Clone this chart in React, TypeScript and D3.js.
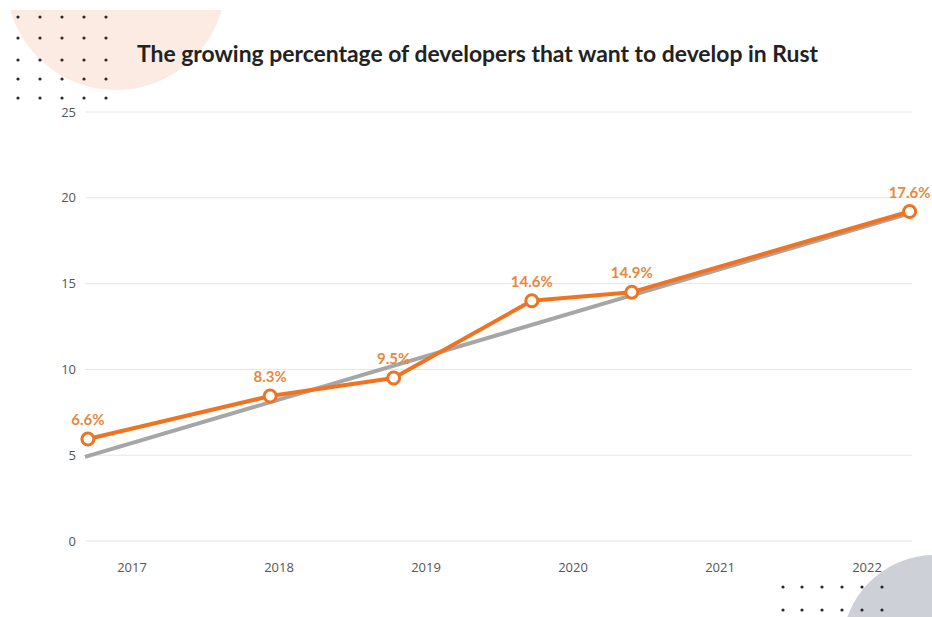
import React from "react";
import * as d3 from "d3";

const years = [2017, 2018, 2019, 2020, 2021, 2022];
const yTicks = [0, 5, 10, 15, 20, 25];
// orange series: x position (fractional year as drawn), plotted value, label
const pointX = [2016.7, 2017.94, 2018.78, 2019.72, 2020.4, 2022.29];
const pointY = [5.94, 8.45, 9.5, 14.0, 14.5, 19.2];
const pointLabels = ["6.6%", "8.3%", "9.5%", "14.6%", "14.9%", "17.6%"];
// gray trend line
const trendX = [2016.68, 2022.29];
const trendY = [4.9, 19.1];

const W = 932;
const H = 617;

export default function App() {
  const x = d3.scaleLinear().domain([2017, 2022]).range([132, 867]);
  const y = d3.scaleLinear().domain([0, 25]).range([541, 112]);
  const line = d3
    .line<[number, number]>()
    .x((d) => x(d[0]))
    .y((d) => y(d[1]));
  const orange = pointX.map((v, i) => [v, pointY[i]] as [number, number]);
  const gray = trendX.map((v, i) => [v, trendY[i]] as [number, number]);

  const dotsTL: [number, number][] = [];
  [18, 40, 62, 84, 106].forEach((cx) =>
    [17, 38, 60, 79, 98].forEach((cy) => dotsTL.push([cx, cy]))
  );
  const dotsBR: [number, number][] = [];
  [783, 802, 822, 842, 862, 882].forEach((cx) =>
    [587, 610].forEach((cy) => dotsBR.push([cx, cy]))
  );

  return (
    <svg
      width={W}
      height={H}
      style={{ position: "absolute", left: 0, top: 0, background: "#fff" }}
    >
      <defs>
        <clipPath id="clipTop">
          <rect x={0} y={10} width={W} height={H} />
        </clipPath>
      </defs>
      <circle cx={116} cy={-20} r={110} fill="#fcebe2" clipPath="url(#clipTop)" />
      <circle cx={935} cy={648} r={93} fill="#cdd0d6" />
      {dotsTL.map((d, i) => (
        <circle key={"a" + i} cx={d[0]} cy={d[1]} r={1.6} fill="#2a2a2a" />
      ))}
      {dotsBR.map((d, i) => (
        <circle key={"b" + i} cx={d[0]} cy={d[1]} r={1.6} fill="#2a2a2a" />
      ))}
      <text
        x={137}
        y={62}
        fontFamily="Lato"
        fontWeight={700}
        fontSize={22.5}
        textLength={681}
        lengthAdjust="spacingAndGlyphs"
        fill="#222"
      >
        The growing percentage of developers that want to develop in Rust
      </text>
      {yTicks.map((t) => (
        <g key={t}>
          <line x1={85} x2={912} y1={y(t)} y2={y(t)} stroke="#e6e6e6" strokeWidth={1} />
          <text
            x={76}
            y={y(t)}
            dy="0.35em"
            textAnchor="end"
            fontFamily="Open Sans"
            fontSize={13}
            fill="#555"
          >
            {t}
          </text>
        </g>
      ))}
      {years.map((yr) => (
        <text
          key={yr}
          x={x(yr)}
          y={572}
          textAnchor="middle"
          fontFamily="Open Sans"
          fontSize={13}
          fill="#555"
        >
          {yr}
        </text>
      ))}
      <path d={line(gray) || ""} fill="none" stroke="#a6a6a6" strokeWidth={4} />
      <path
        d={line(orange) || ""}
        fill="none"
        stroke="#ef7321"
        strokeWidth={4}
        strokeLinejoin="round"
      />
      {orange.map((d, i) => (
        <g key={i}>
          <circle cx={x(d[0])} cy={y(d[1])} r={6} fill="#fff" stroke="#ef7321" strokeWidth={3} />
          <text
            x={x(d[0])}
            y={y(d[1]) - 14}
            textAnchor="middle"
            fontFamily="Lato"
            fontWeight={700}
            fontSize={15}
            fill="#e8883d"
          >
            {pointLabels[i]}
          </text>
        </g>
      ))}
    </svg>
  );
}
